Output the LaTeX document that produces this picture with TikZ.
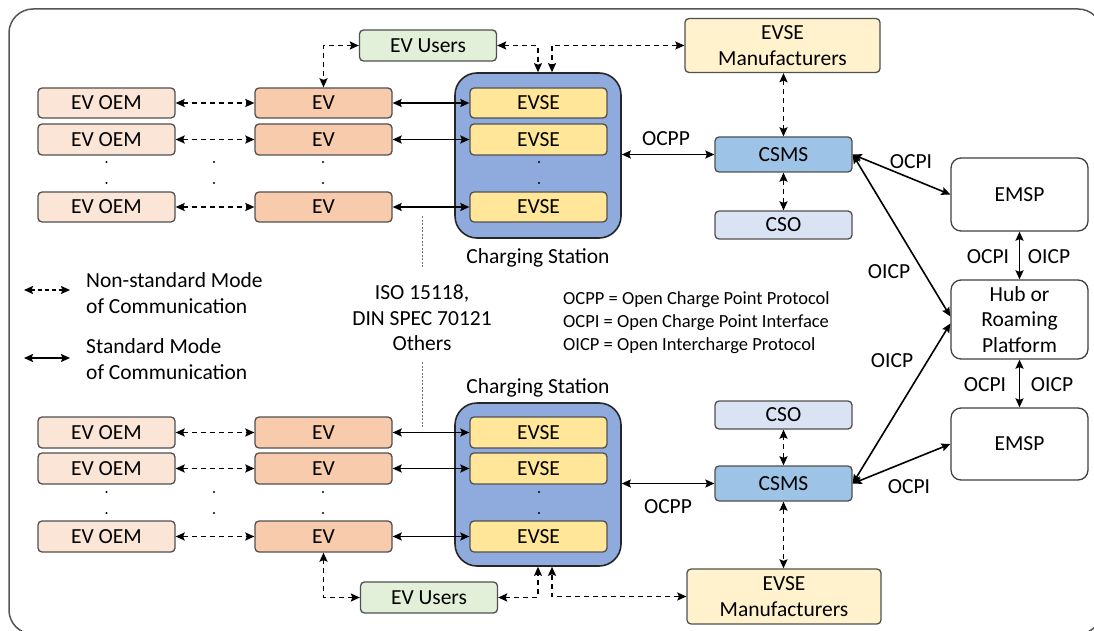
\documentclass[tikz,border=0pt]{standalone}
\usepackage{fontspec}
\setmainfont{Carlito}
\usetikzlibrary{arrows.meta,calc}
\definecolor{oemfill}{HTML}{FBE5D6}
\definecolor{evfill}{HTML}{F8CBAD}
\definecolor{evsefill}{HTML}{FFE699}
\definecolor{stfill}{HTML}{8FAADC}
\definecolor{userfill}{HTML}{E2F0D9}
\definecolor{manufill}{HTML}{FFF2CC}
\definecolor{csmsfill}{HTML}{9DC3E6}
\definecolor{csofill}{HTML}{DAE3F3}
\definecolor{boxline}{HTML}{505050}
\definecolor{framecol}{HTML}{555555}
\begin{document}
\begin{tikzpicture}[x=1pt,y=-1pt,
  txt/.style={font=\fontsize{21.5}{26}\selectfont, inner sep=0pt},
  smalltxt/.style={font=\fontsize{18.5}{23}\selectfont, inner sep=0pt},
  box/.style={draw=boxline, line width=1.3pt, rounded corners=4pt, inner sep=0pt, align=center, txt, minimum width=137pt, minimum height=30pt},
  oembox/.style={box, fill=oemfill},
  evbox/.style={box, fill=evfill},
  evsebox/.style={box, fill=evsefill},
  userbox/.style={box, fill=userfill, minimum height=31pt},
  manubox/.style={box, fill=manufill, minimum width=195pt, minimum height=54pt},
  csmsbox/.style={box, fill=csmsfill, minimum height=35pt},
  csobox/.style={box, fill=csofill, minimum height=28pt},
  whitebox/.style={box, fill=white, draw=black!75, rounded corners=10pt},
  station/.style={draw=black!85, fill=stfill, line width=1.6pt, rounded corners=22pt, minimum width=166pt, inner sep=0pt},
  solidarrow/.style={line width=1.6pt, {Stealth[length=9pt,width=8pt,inset=1.5pt]}-{Stealth[length=9pt,width=8pt,inset=1.5pt]}},
  dasharrow/.style={solidarrow, dash pattern=on 5pt off 4pt},
  dotline/.style={draw=black!55, line width=0.9pt, dash pattern=on 2pt off 1.5pt},
  dotmark/.style={fill=black, draw=none, circle, inner sep=0pt, minimum size=2.2pt}
]
\useasboundingbox (0,0) rectangle (1094,631);
\clip (0,0) rectangle (1094,631);
\fill[white] (0,0) rectangle (1094,631);
\draw[framecol, line width=1.5pt, rounded corners=24pt] (9,9) rectangle (1102,634);

% ---------------- top half ----------------
\node[station, minimum height=165pt] (stT) at (538,155.5) {};
\node[evsebox] (evseT1) at (538.5,103) {EVSE};
\node[evsebox, minimum height=31pt] (evseT2) at (538.5,139.5) {EVSE};
\node[evsebox] (evseT3) at (538.5,207) {EVSE};
\node[txt] (csT) at (538,258) {Charging Station};

\node[oembox] (oemT1) at (106.5,103) {EV OEM};
\node[oembox, minimum height=31pt] (oemT2) at (106.5,139.5) {EV OEM};
\node[oembox] (oemT3) at (106.5,207) {EV OEM};
\node[evbox] (evT1) at (323.5,103) {EV};
\node[evbox, minimum height=31pt] (evT2) at (323.5,139.5) {EV};
\node[evbox] (evT3) at (323.5,207) {EV};

\node[userbox] (usT) at (428,45.5) {EV Users};
\node[manubox] (manT) at (782.5,45.5) {EVSE\\Manufacturers};
\node[csmsbox] (csmsT) at (783.5,154.5) {CSMS};
\node[csobox] (csoT) at (783.5,225) {CSO};

\foreach \x/\n in {106.5/a,214/b,323/c,539/d}{
  \node[dotmark] (dT1\n) at (\x,162) {};
  \node[dotmark] (dT2\n) at (\x,183) {};
}

\foreach \i in {1,2,3}{
  \draw[dasharrow] (oemT\i) -- (evT\i);
  \draw[solidarrow] (evT\i) -- (evseT\i);
}
\draw[dasharrow] (usT.west) -| (evT1.north);
\draw[dasharrow] (usT.east) -| (stT.north);
\coordinate (stTn2) at ($(stT.north)+(14,0)$);
\draw[dasharrow] (manT.west) -| (stTn2);
\draw[dasharrow] (csmsT.north |- manT.south) -- (csmsT.north);
\draw[dasharrow] (csmsT.south) -- (csoT.north);
\draw[solidarrow] (stT.east |- csmsT.west) -- (csmsT.west);
\node[txt] (ocppT) at (666,139) {OCPP};

% ---------------- right ----------------
\node[whitebox, minimum height=73pt] (emspT) at (1019.5,194.5) {EMSP};
\node[whitebox, minimum height=79pt, align=center, font=\fontsize{21.5}{25.5}\selectfont] (hub) at (1019.5,319.5) {Hub or\\Roaming\\Platform};
\node[whitebox, minimum height=72pt] (emspB) at (1019.5,444) {EMSP};

\coordinate (hubw1) at ($(hub.west)+(0,-3)$);
\coordinate (hubw2) at ($(hub.west)+(0,4)$);

\draw[solidarrow] (csmsT.east) -- (emspT.west);
\draw[solidarrow] (csmsT.east) -- (hubw1);
\draw[solidarrow] (emspT.south) -- (hub.north);
\draw[solidarrow] (hub.south) -- (emspB.north);

\node[txt] (lblA) at (911,162) {OCPI};
\node[txt] (lblB) at (889,272) {OICP};
\node[txt] (lblC) at (988,257) {OCPI};
\node[txt] (lblD) at (1049,257) {OICP};
\node[txt] (lblE) at (985,385) {OCPI};
\node[txt] (lblF) at (1052,385) {OICP};
\node[txt] (lblG) at (892,361) {OICP};
\node[txt] (lblH) at (909,487) {OCPI};

% ---------------- bottom half ----------------
\node[txt] (csB) at (538,388) {Charging Station};
\node[station, minimum height=163pt] (stB) at (538,484.5) {};
\node[evsebox, minimum height=31pt] (evseB1) at (538.5,432.5) {EVSE};
\node[evsebox, minimum height=31pt] (evseB2) at (538.5,468.5) {EVSE};
\node[evsebox, minimum height=31pt] (evseB3) at (538.5,536.5) {EVSE};

\node[oembox, minimum height=31pt] (oemB1) at (106.5,432.5) {EV OEM};
\node[oembox, minimum height=31pt] (oemB2) at (106.5,468.5) {EV OEM};
\node[oembox, minimum height=31pt] (oemB3) at (106.5,536.5) {EV OEM};
\node[evbox, minimum height=31pt] (evB1) at (323.5,432.5) {EV};
\node[evbox, minimum height=31pt] (evB2) at (323.5,468.5) {EV};
\node[evbox, minimum height=31pt] (evB3) at (323.5,536.5) {EV};

\node[userbox] (usB) at (429,597.5) {EV Users};
\node[manubox, minimum width=194pt, minimum height=55pt] (manB) at (784,596.5) {EVSE\\Manufacturers};
\node[csmsbox] (csmsB) at (783.5,483.5) {CSMS};
\node[csobox] (csoB) at (783.5,415) {CSO};

\foreach \x/\n in {106.5/a,214/b,323/c,539/d}{
  \node[dotmark] (dB1\n) at (\x,492) {};
  \node[dotmark] (dB2\n) at (\x,513) {};
}

\foreach \i in {1,2,3}{
  \draw[dasharrow] (oemB\i) -- (evB\i);
  \draw[solidarrow] (evB\i) -- (evseB\i);
}
\draw[dasharrow] (usB.west) -| (evB3.south);
\draw[dasharrow] (usB.east) -| (stB.south);
\coordinate (stBs2) at ($(stB.south)+(14,0)$);
\draw[dasharrow] (manB.west) -| (stBs2);
\draw[dasharrow] (csmsB.south) -- (csmsB.south |- manB.north);
\draw[dasharrow] (csmsB.north) -- (csoB.south);
\draw[solidarrow] (stB.east |- csmsB.west) -- (csmsB.west);
\node[txt] (ocppB) at (668,507) {OCPP};

\draw[solidarrow] (hubw2) -- (csmsB.east);
\draw[solidarrow] (csmsB.east) -- (emspB.west);

% ---------------- middle texts ----------------
\node[txt, align=center, font=\fontsize{21.5}{25.5}\selectfont] (iso) at (422,318) {ISO 15118,\\DIN SPEC 70121\\Others};
\coordinate (dl1a) at (422,216);
\coordinate (dl1b) at (422,268);
\coordinate (dl2a) at (422,362);
\coordinate (dl2b) at (422,427);
\draw[dotline] (dl1a) -- (dl1b);
\draw[dotline] (dl2a) -- (dl2b);

\node[smalltxt, align=left, anchor=west] (abbr) at (563,323) {OCPP = Open Charge Point Protocol\\OCPI = Open Charge Point Interface\\OICP = Open Intercharge Protocol};

% legend
\coordinate (lg1a) at (24,290);
\coordinate (lg1b) at (70,290);
\coordinate (lg2a) at (24,358);
\coordinate (lg2b) at (70,358);
\draw[dasharrow, dash pattern=on 4pt off 3pt] (lg1a) -- (lg1b);
\draw[solidarrow] (lg2a) -- (lg2b);
\node[txt, align=left, anchor=west] (lgt1) at (86,293) {Non-standard Mode\\of Communication};
\node[txt, align=left, anchor=west] (lgt2) at (86,359) {Standard Mode\\of Communication};
\end{tikzpicture}
\end{document}
